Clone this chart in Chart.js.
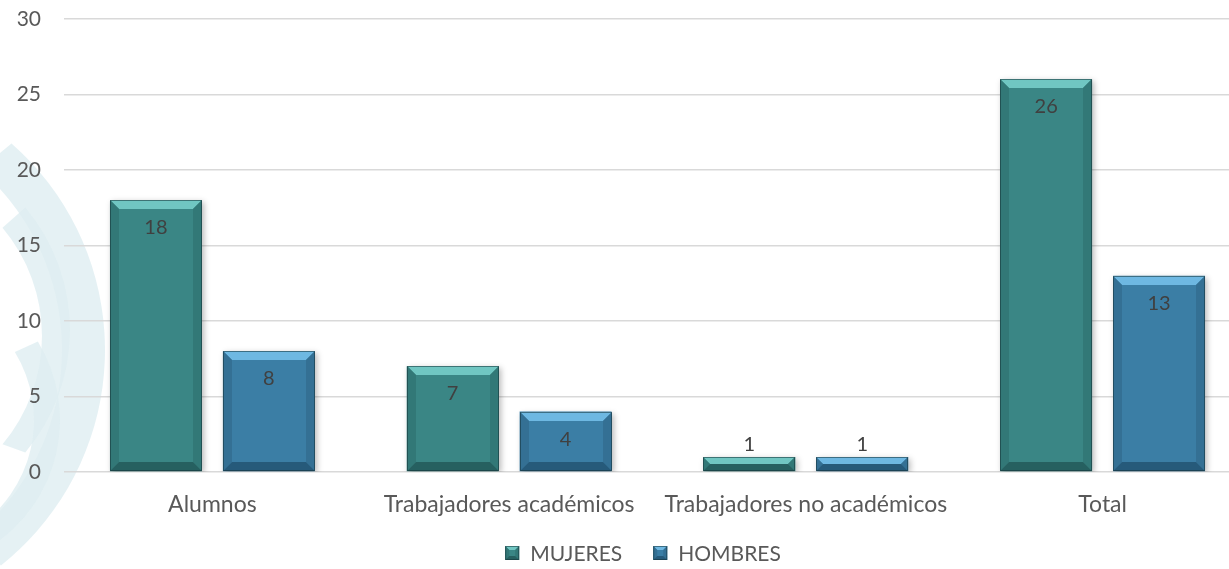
<!DOCTYPE html>
<html><head><meta charset="utf-8">
<script src="https://cdn.jsdelivr.net/npm/chart.js@4/dist/chart.umd.min.js"></script>
<style>
html,body{margin:0;padding:0;background:#fff;overflow:hidden;width:1229px;height:569px;}
#wrap{position:absolute;left:0;top:0;width:1286px;height:569px;}
</style></head>
<body>
<div id="wrap"><canvas id="c" width="1286" height="569"></canvas></div>
<script>
const categories = ["Alumnos", "Trabajadores académicos", "Trabajadores no académicos", "Total"];
const seriesNames = ["MUJERES", "HOMBRES"];
const mujeres = [18, 7, 1, 26];
const hombres = [8, 4, 1, 13];
const yTicks = [0, 5, 10, 15, 20, 25, 30];

const FONT = "Lato, 'Open Sans', sans-serif";
const palette = [
  {main:'rgb(58,134,133)', light:'rgb(112,198,194)', side:'rgb(50,120,119)', dark:'rgb(38,96,96)'},
  {main:'rgb(59,126,165)', light:'rgb(110,184,226)', side:'rgb(52,112,148)', dark:'rgb(38,90,122)'}
];

function bevel(ctx, l, t, r, b, p, s) {
  const h = b - t, w = r - l;
  s = Math.min(s, h / 2, w / 2);
  ctx.fillStyle = p.light;
  ctx.beginPath(); ctx.moveTo(l,t); ctx.lineTo(r,t); ctx.lineTo(r-s,t+s); ctx.lineTo(l+s,t+s); ctx.closePath(); ctx.fill();
  ctx.fillStyle = p.side;
  ctx.beginPath(); ctx.moveTo(l,t); ctx.lineTo(l+s,t+s); ctx.lineTo(l+s,b-s); ctx.lineTo(l,b); ctx.closePath(); ctx.fill();
  ctx.fillStyle = p.side;
  ctx.beginPath(); ctx.moveTo(r,t); ctx.lineTo(r-s,t+s); ctx.lineTo(r-s,b-s); ctx.lineTo(r,b); ctx.closePath(); ctx.fill();
  ctx.fillStyle = p.dark;
  ctx.beginPath(); ctx.moveTo(l,b); ctx.lineTo(l+s,b-s); ctx.lineTo(r-s,b-s); ctx.lineTo(r,b); ctx.closePath(); ctx.fill();
  ctx.strokeStyle = 'rgba(20,50,55,0.55)'; ctx.lineWidth = 1;
  ctx.strokeRect(l+0.5, t+0.5, w-1, h-1);
}

const watermark = {
  id:'watermark',
  beforeDraw(chart){
    const ctx = chart.ctx;
    ctx.save();
    ctx.fillStyle = 'rgba(222,237,241,0.8)';
    ctx.beginPath();
    ctx.arc(-170, 350, 275, -0.85, 0.9, false);
    ctx.arc(-178, 350, 240, 0.9, -0.85, true);
    ctx.closePath(); ctx.fill();
    ctx.beginPath();
    ctx.arc(-120, 330, 190, -0.7, 0.7, false);
    ctx.arc(-126, 336, 168, 0.7, -0.7, true);
    ctx.closePath(); ctx.fill();
    ctx.beginPath();
    ctx.arc(-90, 420, 150, -0.55, 1.0, false);
    ctx.arc(-96, 420, 130, 1.0, -0.55, true);
    ctx.closePath(); ctx.fill();
    ctx.restore();
  }
};

const barFx = {
  id:'barFx',
  beforeDatasetsDraw(chart){
    const ctx = chart.ctx;
    ctx.save();
    ctx.shadowColor = 'rgba(0,0,0,0.28)';
    ctx.shadowBlur = 6; ctx.shadowOffsetX = 2; ctx.shadowOffsetY = 2;
  },
  afterDatasetsDraw(chart){
    const ctx = chart.ctx;
    ctx.restore();
    chart.data.datasets.forEach((ds, di) => {
      const meta = chart.getDatasetMeta(di);
      meta.data.forEach((bar, i) => {
        const p = bar.getProps(['x','y','base','width'], true);
        const l = Math.round(p.x - p.width/2), r = Math.round(p.x + p.width/2);
        const t = Math.round(p.y), b = Math.round(p.base);
        ctx.save();
        bevel(ctx, l, t, r, b, palette[di], 9);
        ctx.restore();
        ctx.save();
        ctx.font = '20px ' + FONT;
        ctx.fillStyle = '#404040';
        ctx.textAlign = 'center'; ctx.textBaseline = 'middle';
        const v = ds.data[i];
        const ly = (b - t) > 45 ? t + 28 : t - 12;
        ctx.fillText(String(v), p.x, ly);
        ctx.restore();
      });
    });
  },
  afterDraw(chart){
    const ctx = chart.ctx;
    ctx.save();
    ctx.font = '21px ' + FONT;
    const box = 14, gapBT = 11, gapItems = 31;
    const widths = seriesNames.map(n => ctx.measureText(n).width);
    let total = 0;
    widths.forEach((w, i) => { total += box + gapBT + w + (i < widths.length - 1 ? gapItems : 0); });
    let x = chart.width / 2 - total / 2;
    const cy = 553;
    seriesNames.forEach((n, i) => {
      const t = cy - box/2;
      ctx.fillStyle = palette[i].main; ctx.fillRect(x, t, box, box);
      bevel(ctx, x, t, x+box, t+box, palette[i], 4);
      ctx.fillStyle = '#595959';
      ctx.textAlign = 'left'; ctx.textBaseline = 'middle';
      ctx.fillText(n, x + box + gapBT, cy + 1);
      x += box + gapBT + widths[i] + gapItems;
    });
    ctx.restore();
  }
};

new Chart(document.getElementById('c'), {
  type:'bar',
  data:{
    labels:categories,
    datasets:[
      {label:seriesNames[0], data:mujeres, backgroundColor:palette[0].main, borderWidth:0},
      {label:seriesNames[1], data:hombres, backgroundColor:palette[1].main, borderWidth:0}
    ]
  },
  options:{
    responsive:false, animation:false,
    layout:{padding:{left:17, right:35, top:19, bottom:0}},
    categoryPercentage:0.761, barPercentage:0.814,
    scales:{
      x:{
        grid:{display:false, drawTicks:false},
        border:{display:false},
        afterFit(scale){ scale.height = 97; },
        ticks:{color:'#595959', font:{family:FONT, size:23}, padding:19}
      },
      y:{
        min:0, max:30,
        afterBuildTicks(scale){ scale.ticks = yTicks.map(v => ({value:v})); },
        afterFit(scale){ scale.width = 47; scale.paddingTop = 0; scale.paddingBottom = 0; },
        grid:{color:'#d9d9d9', lineWidth:1.5, drawTicks:false},
        border:{display:false},
        ticks:{color:'#595959', font:{family:FONT, size:21}, padding:23}
      }
    },
    plugins:{
      legend:{display:false},
      tooltip:{enabled:false}
    }
  },
  plugins:[watermark, barFx]
});
</script>
</body></html>
